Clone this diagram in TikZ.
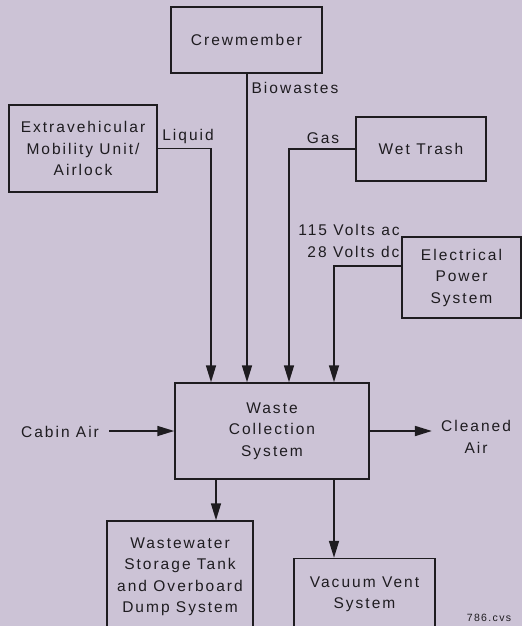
\documentclass[tikz,border=0pt]{standalone}
\usepackage{fontspec}
\setmainfont{Liberation Sans}[LetterSpace=13]
\usetikzlibrary{arrows.meta}
\definecolor{bg}{RGB}{204,195,214}
\definecolor{ink}{RGB}{30,28,32}
\begin{document}
\begin{tikzpicture}[x=1pt,y=-1pt,
  every node/.style={text=ink},
  box/.style={draw=ink, line width=1.5pt, inner sep=0pt, align=center,
    font=\fontsize{15.5}{21.5}\selectfont},
  lbl/.style={inner sep=0pt, align=center, font=\fontsize{15.5}{22}\selectfont},
  arr/.style={draw=ink, line width=1.7pt, -{Triangle[length=17pt,width=10pt]}}]
\fill[bg] (0,0) rectangle (522,626);
\useasboundingbox (0,0) rectangle (522,626);
\clip (0,0) rectangle (522,626);
% boxes
\node[box, minimum width=151pt, minimum height=66pt] (crew) at (246.5,40) {Crewmember};
\node[box, minimum width=148pt, minimum height=87pt] (emu) at (83,148.5) {Extravehicular\\Mobility Unit/\\Airlock};
\node[box, minimum width=130pt, minimum height=64pt] (wet) at (421,149) {Wet Trash};
\node[box, minimum width=119pt, minimum height=81pt] (eps) at (461.5,277.5) {Electrical\\Power\\System};
\node[box, minimum width=194pt, minimum height=96pt] (wcs) at (272,431) {Waste\\Collection\\System};
\node[box, minimum width=146pt, minimum height=112pt] (ww) at (180,577) {Wastewater\\Storage Tank\\and Overboard\\Dump System};
\node[box, minimum width=141pt, minimum height=72pt] (vv) at (364.5,594.5) {Vacuum Vent\\System};
% labels
\node[lbl] (liq) at (188,136) {Liquid};
\node[lbl] (bio) at (295,88) {Biowastes};
\node[lbl] (gas) at (323,138) {Gas};
\node[lbl] (volt) at (349,241) {115 Volts ac\\\ \,28 Volts dc};
\node[lbl] (cabin) at (60,432) {Cabin Air};
\node[lbl] (clean) at (476,437) {Cleaned\\Air};
\node[inner sep=0pt, font=\fontsize{10.5}{11}\selectfont] (tag) at (489,618) {786.cvs};
% x positions
\coordinate (x1) at (211,0);
\coordinate (x2) at (247,0);
\coordinate (x3) at (289,0);
\coordinate (x4) at (334,0);
\coordinate (x5) at (216,0);
% connectors
\draw[arr] (emu.east) -| (x1 |- wcs.north);
\draw[arr] (crew.south -| x2) -- (x2 |- wcs.north);
\draw[arr] (wet.west) -| (x3 |- wcs.north);
\draw[arr] ([yshift=11.5pt]eps.west) -| (x4 |- wcs.north);
\draw[arr] ([xshift=10pt]cabin.east |- wcs.west) -- (wcs.west);
\draw[arr] (wcs.east) -- ([xshift=-9pt]wcs.east -| clean.west);
\draw[arr] (wcs.south -| x5) -- (x5 |- ww.north);
\draw[arr] (wcs.south -| x4) -- (x4 |- vv.north);
\end{tikzpicture}
\end{document}
